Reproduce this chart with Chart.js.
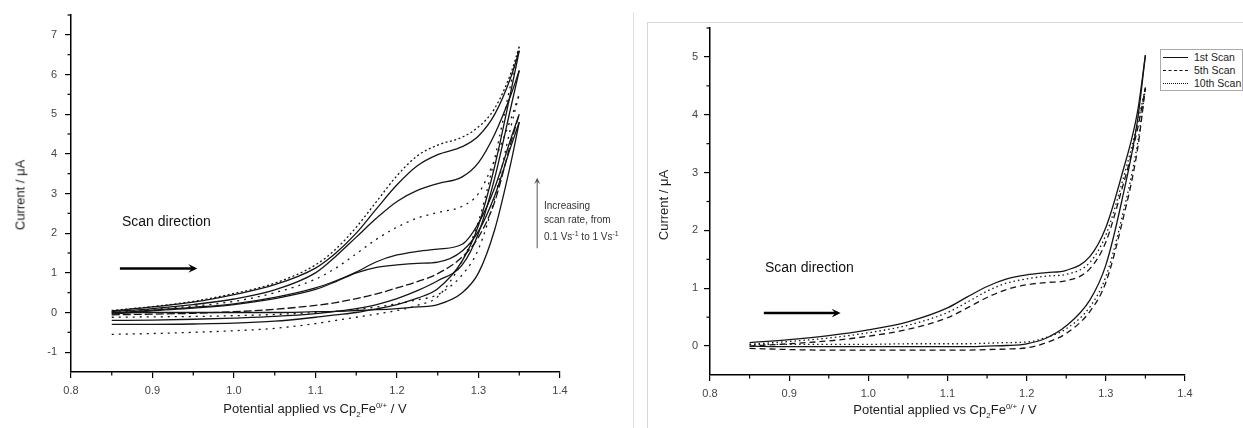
<!DOCTYPE html>
<html><head><meta charset="utf-8">
<script src="https://cdn.jsdelivr.net/npm/chart.js@4.4.1/dist/chart.umd.min.js"></script>
<style>
html,body{margin:0;padding:0;background:#fff;width:1243px;height:428px;overflow:hidden;font-family:"Liberation Sans",Arial,sans-serif;}
canvas{position:absolute;}
.t{position:absolute;white-space:nowrap;color:#1e1e1e;}
.ytitle{font-size:13px;transform:translate(-50%,-50%) rotate(-90deg);}
.xtitle{font-size:13px;transform:translate(-50%,-50%);}
.xtitle sub,.xtitle sup{font-size:8px;}
.scan{font-size:14px;color:#111;transform:translateY(-50%);}
.note{font-size:10px;color:#333;line-height:14px;}
.note sup{font-size:7px;}
.legend{position:absolute;left:1160px;top:49px;width:81px;height:40px;border:1px solid #aaa;background:#fff;font-size:10.5px;color:#222;}
.legend .row{position:absolute;left:2px;width:78px;height:13px;}
.legend .smp{position:absolute;left:0;top:6px;width:25px;height:0;border-top:1.5px solid #111;}
.legend .lab{position:absolute;left:31px;top:0;line-height:13px;white-space:nowrap;}
</style></head><body>
<div style="position:absolute;left:633px;top:12px;width:0;height:416px;border-left:1px solid #e2e2e2;"></div>
<div style="position:absolute;left:647px;top:22px;width:600px;height:420px;border-left:1px solid #d8d8d8;border-top:1px solid #d8d8d8;"></div>
<canvas id="c1" width="625" height="428" style="left:0;top:0"></canvas>
<canvas id="c2" width="603" height="428" style="left:640px;top:0"></canvas>

<div class="t ytitle" style="left:20px;top:195px;">Current / μA</div>
<div class="t xtitle" style="left:315px;top:410px;">Potential applied vs Cp<sub>2</sub>Fe<sup>0/+</sup> / V</div>
<div class="t scan" style="left:122px;top:221px;">Scan direction</div>
<div class="t note" style="left:544px;top:199px;">Increasing<br>scan rate, from<br>0.1 Vs<sup>-1</sup> to 1 Vs<sup>-1</sup></div>

<div class="t ytitle" style="left:663px;top:205px;">Current / μA</div>
<div class="t xtitle" style="left:945px;top:411px;">Potential applied vs Cp<sub>2</sub>Fe<sup>0/+</sup> / V</div>
<div class="t scan" style="left:765px;top:267px;">Scan direction</div>

<div class="legend">
  <div class="row" style="top:1px;"><div class="smp"></div><div class="lab">1st Scan</div></div>
  <div class="row" style="top:14px;"><div class="smp" style="border-top-style:dashed;"></div><div class="lab">5th Scan</div></div>
  <div class="row" style="top:27px;"><div class="smp" style="border-top-style:dotted;"></div><div class="lab">10th Scan</div></div>
</div>

<script>
// ---------- shared potential grid (V vs Cp2Fe0/+) ----------
const potential = [0.85,0.90,0.95,1.00,1.05,1.10,1.125,1.15,1.175,1.20,1.225,1.25,1.28,1.30,1.32,1.34,1.35];

// ---------- left panel: scan-rate series (µA), upper and lower branches ----------
const rateA_upper = [0.05,0.15,0.28,0.48,0.74,1.20,1.60,2.15,2.80,3.45,3.95,4.22,4.42,4.68,5.15,6.05,6.70];
const rateA_lower = [-0.55,-0.53,-0.50,-0.46,-0.40,-0.28,-0.20,-0.12,-0.04,0.05,0.18,0.40,1.30,2.30,3.90,5.80,6.70];
const rateB_upper = [0.04,0.14,0.26,0.45,0.70,1.12,1.50,2.00,2.62,3.22,3.70,3.98,4.18,4.45,5.00,5.95,6.60];
const rateB_lower = [-0.30,-0.30,-0.29,-0.27,-0.22,-0.12,-0.06,0.00,0.09,0.20,0.36,0.60,1.30,2.20,3.70,5.60,6.60];
const rateC_upper = [0.02,0.10,0.20,0.34,0.57,1.00,1.42,1.90,2.38,2.80,3.08,3.25,3.42,3.78,4.50,5.50,6.10];
const rateC_lower = [-0.20,-0.19,-0.17,-0.14,-0.10,-0.03,0.03,0.10,0.20,0.35,0.55,0.80,1.20,2.00,3.40,5.20,6.10];
const rateD_upper = [0.00,0.08,0.16,0.28,0.50,0.84,1.12,1.48,1.85,2.15,2.38,2.52,2.68,3.00,3.85,4.90,5.50];
const rateD_lower = [-0.12,-0.11,-0.10,-0.08,-0.05,0.00,0.03,0.08,0.14,0.22,0.32,0.45,0.95,1.60,2.90,4.70,5.50];
const rateE_upper = [-0.02,0.06,0.13,0.22,0.38,0.62,0.80,1.02,1.28,1.45,1.54,1.60,1.72,2.25,3.15,4.40,5.00];
const rateE_lower = [-0.06,-0.04,-0.02,0.02,0.08,0.18,0.25,0.35,0.47,0.62,0.78,0.98,1.40,1.90,2.80,4.30,5.00];
const rateF_upper = [-0.04,0.04,0.11,0.20,0.35,0.58,0.78,1.00,1.14,1.20,1.24,1.27,1.55,2.05,2.95,4.20,4.80];
const rateF_lower = [0.00,0.00,0.00,0.00,0.00,0.02,0.03,0.05,0.07,0.10,0.14,0.20,0.50,1.00,2.10,3.80,4.80];

// ---------- right panel: repeated scans (µA) ----------
const scanLabels = ['1st Scan','5th Scan','10th Scan'];
const scan1_upper  = [0.06,0.11,0.18,0.28,0.42,0.66,0.85,1.03,1.16,1.23,1.27,1.31,1.55,2.05,2.95,4.05,5.03];
const scan1_lower  = [0.00,-0.01,-0.01,-0.01,-0.01,-0.01,-0.01,0.00,0.01,0.04,0.14,0.35,0.80,1.40,2.50,3.90,5.03];
const scan5_upper  = [0.00,0.04,0.09,0.17,0.29,0.49,0.66,0.84,0.98,1.06,1.10,1.13,1.34,1.80,2.70,3.75,4.47];
const scan5_lower  = [-0.04,-0.06,-0.07,-0.07,-0.07,-0.07,-0.07,-0.06,-0.05,-0.03,0.06,0.22,0.60,1.10,2.10,3.40,4.47];
const scan10_upper = [0.03,0.08,0.14,0.23,0.36,0.58,0.76,0.95,1.09,1.16,1.21,1.24,1.45,1.92,2.80,3.85,4.47];
const scan10_lower = [0.03,0.03,0.03,0.03,0.04,0.04,0.04,0.05,0.06,0.07,0.15,0.30,0.68,1.20,2.20,3.50,4.47];

// ---------- ticks ----------
const xTicks = [0.8,0.9,1.0,1.1,1.2,1.3,1.4];
const xTickLabels = ['0.8','0.9','1.0','1.1','1.2','1.3','1.4'];
const leftYTicks = [-1,0,1,2,3,4,5,6,7];
const leftYTickLabels = ['-1','0','1','2','3','4','5','6','7'];
const rightYTicks = [0,1,2,3,4,5];
const rightYTickLabels = ['0','1','2','3','4','5'];

// ---------- helpers ----------
const pts = ys => potential.map((x,i)=>({x:x,y:ys[i]}));
function branch(label, ys, dash){
  return {label:label, data:pts(ys), showLine:true, pointRadius:0, borderColor:'#151515',
    borderWidth:1.3, borderDash:dash||[], cubicInterpolationMode:'monotone', fill:false};
}
function mids(arr, extraEnd){
  const m=[]; for(let i=0;i<arr.length-1;i++) m.push((arr[i]+arr[i+1])/2);
  if(extraEnd!==undefined) m.push(extraEnd);
  return m;
}

const minorTicks = {
  id:'minorTicks',
  afterDraw(chart, args, o){
    const ctx=chart.ctx, xs=chart.scales.x, ys=chart.scales.y;
    ctx.save(); ctx.strokeStyle='#000'; ctx.lineWidth=1.2;
    o.x.forEach(v=>{const p=xs.getPixelForValue(v); ctx.beginPath(); ctx.moveTo(p,ys.bottom); ctx.lineTo(p,ys.bottom+3.5); ctx.stroke();});
    o.y.forEach(v=>{const p=ys.getPixelForValue(v); ctx.beginPath(); ctx.moveTo(xs.left,p); ctx.lineTo(xs.left-3.5,p); ctx.stroke();});
    ctx.restore();
  }
};
const arrows = {
  id:'arrows',
  afterDraw(chart, args, o){
    const ctx=chart.ctx, xs=chart.scales.x, ys=chart.scales.y;
    (o.list||[]).forEach(a=>{
      const x1=xs.getPixelForValue(a.x1), y1=ys.getPixelForValue(a.y1);
      const x2=xs.getPixelForValue(a.x2), y2=ys.getPixelForValue(a.y2);
      const ang=Math.atan2(y2-y1,x2-x1);
      ctx.save(); ctx.strokeStyle=a.color; ctx.fillStyle=a.color; ctx.lineWidth=a.width;
      ctx.beginPath(); ctx.moveTo(x1,y1); ctx.lineTo(x2-Math.cos(ang)*a.head*0.3,y2-Math.sin(ang)*a.head*0.3); ctx.stroke();
      ctx.beginPath();
      ctx.moveTo(x2,y2);
      ctx.lineTo(x2-a.head*Math.cos(ang-0.45), y2-a.head*Math.sin(ang-0.45));
      ctx.lineTo(x2-a.head*0.55*Math.cos(ang), y2-a.head*0.55*Math.sin(ang));
      ctx.lineTo(x2-a.head*Math.cos(ang+0.45), y2-a.head*Math.sin(ang+0.45));
      ctx.closePath(); ctx.fill();
      ctx.restore();
    });
  }
};

function axisX(){
  return {type:'linear', min:0.8, max:1.4,
    afterBuildTicks: s=>{ s.ticks = xTicks.map(v=>({value:v})); },
    afterFit: s=>{ s.height = 30; },
    border:{color:'#000', width:1.5},
    grid:{drawOnChartArea:false, drawTicks:true, tickLength:6, color:'#000', lineWidth:1.2},
    ticks:{color:'#444', padding:6, font:{family:'"Liberation Sans", Arial', size:11}, maxRotation:0,
      callback:(v,i)=>xTickLabels[i]}
  };
}
function axisY(min,max,tv,tl,pad){
  return {type:'linear', min:min, max:max,
    afterBuildTicks: s=>{ s.ticks = tv.map(v=>({value:v})); },
    afterFit: s=>{ s.width = 40; },
    border:{color:'#000', width:1.5},
    grid:{drawOnChartArea:false, drawTicks:true, tickLength:6, color:'#000', lineWidth:1.2},
    ticks:{color:'#444', padding:pad, font:{family:'"Liberation Sans", Arial', size:11},
      callback:(v,i)=>tl[i]}
  };
}

Chart.defaults.devicePixelRatio = 1;

// ---------- left chart ----------
const dotDense=[2,2.5], dotSparse=[2,5], longDash=[8,3];
new Chart(document.getElementById('c1'), {
  type:'scatter',
  data:{datasets:[
    branch('A upper', rateA_upper, dotDense), branch('A lower', rateA_lower, dotSparse),
    branch('B upper', rateB_upper), branch('B lower', rateB_lower),
    branch('C upper', rateC_upper), branch('C lower', rateC_lower),
    branch('D upper', rateD_upper, dotSparse), branch('D lower', rateD_lower, dotSparse),
    branch('E upper', rateE_upper), branch('E lower', rateE_lower, longDash),
    branch('F upper', rateF_upper), branch('F lower', rateF_lower)
  ]},
  options:{responsive:false, animation:false,
    layout:{padding:{left:31, right:65, top:15, bottom:26}},
    scales:{x:axisX(), y:axisY(-1.5,7.5,leftYTicks,leftYTickLabels,8)},
    plugins:{legend:{display:false}, tooltip:{enabled:false},
      minorTicks:{x:mids(xTicks), y:mids(leftYTicks,7.5)},
      arrows:{list:[
        {x1:0.860,y1:1.11,x2:0.955,y2:1.11,color:'#000',width:2.5,head:10},
        {x1:1.372,y1:1.62,x2:1.372,y2:3.40,color:'#555',width:1,head:7}
      ]}
    }
  },
  plugins:[minorTicks, arrows]
});

// ---------- right chart ----------
new Chart(document.getElementById('c2'), {
  type:'scatter',
  data:{datasets:[
    branch(scanLabels[0], scan1_upper), branch(scanLabels[0], scan1_lower),
    branch(scanLabels[1], scan5_upper, [6,4]), branch(scanLabels[1], scan5_lower, [6,4]),
    branch(scanLabels[2], scan10_upper, [1.5,3]), branch(scanLabels[2], scan10_lower, [1.5,3])
  ]},
  options:{responsive:false, animation:false,
    layout:{padding:{left:30, right:58, top:28, bottom:23}},
    scales:{x:axisX(), y:axisY(-0.5,5.5,rightYTicks,rightYTickLabels,6)},
    plugins:{legend:{display:false}, tooltip:{enabled:false},
      minorTicks:{x:mids(xTicks), y:mids(rightYTicks,5.5)},
      arrows:{list:[
        {x1:0.868,y1:0.57,x2:0.965,y2:0.57,color:'#000',width:2.5,head:10}
      ]}
    }
  },
  plugins:[minorTicks, arrows]
});
</script>
</body></html>
